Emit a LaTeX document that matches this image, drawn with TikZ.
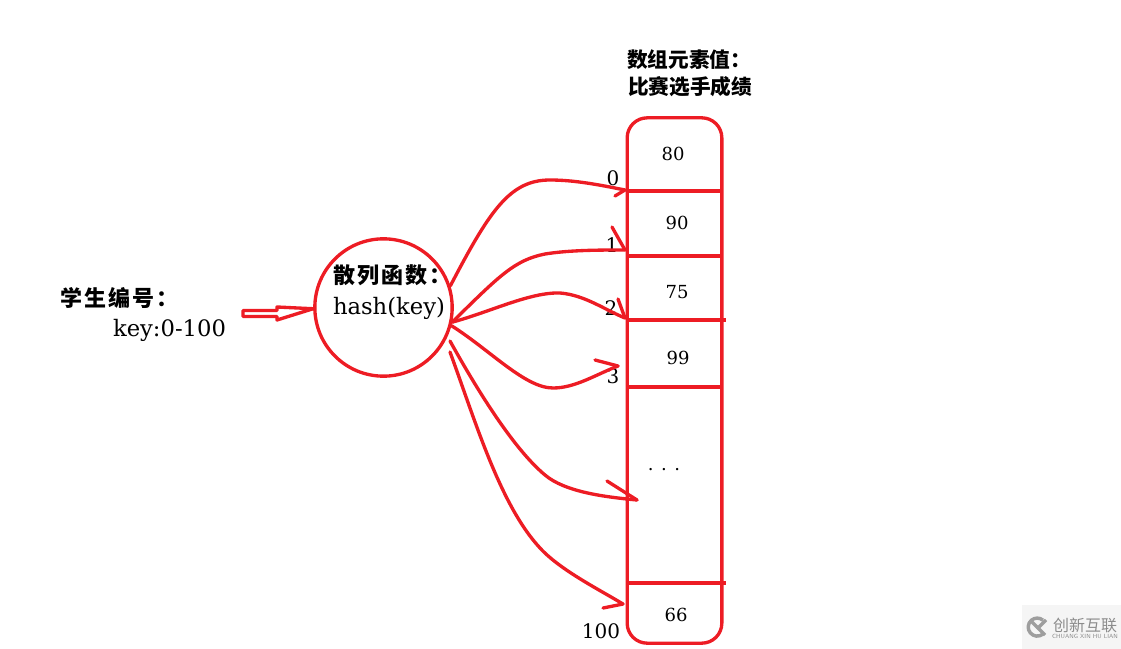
\documentclass[tikz,border=0pt]{standalone}
\usepackage{fontspec}
\setmainfont{DejaVu Serif}
\newfontfamily\cjk{Noto Sans CJK SC}
\newfontfamily\cjkwide{Noto Sans CJK SC}[LetterSpace=9]
\definecolor{linered}{HTML}{ED1C24}
\tikzset{
  redline/.style={draw=linered,line width=2.5pt,line cap=round,line join=round},
  sepline/.style={draw=linered,line width=2.7pt},
  word/.style={inner sep=0pt,font=\fontsize{13.5}{15}\selectfont},
  bigword/.style={inner sep=0pt,font=\fontsize{17}{20}\selectfont},
  idxword/.style={inner sep=0pt,font=\fontsize{15}{18}\selectfont},
  cjkword/.style={inner sep=0pt,anchor=west,font=\cjk\bfseries\fontsize{15.5}{18}\selectfont},
  cjkwideword/.style={inner sep=0pt,anchor=west,font=\cjkwide\bfseries\fontsize{16.5}{18}\selectfont},
  mark gray/.style={text=black!45,inner sep=0pt}
}
\begin{document}
\begin{tikzpicture}[x=.75pt,y=-.75pt]
\useasboundingbox (0,0) rectangle (1121,649);
\fill[black!4] (1022,605) rectangle (1121,649);
\node[redline,circle,minimum size=103pt,inner sep=0pt] (hash) at (383.5,307.5) {};
\node[redline,rectangle,rounded corners=15pt,minimum width=71pt,minimum height=394pt,inner sep=0pt] (table) at (674.5,380.5) {};
\coordinate (sepa) at (627,191);
\coordinate (sepb) at (627,256);
\coordinate (sepc) at (627,320);
\coordinate (sepd) at (627,387);
\coordinate (sepe) at (627,583);
\draw[sepline] (sepa)--(721,191);
\draw[sepline] (sepb)--(721,256);
\draw[sepline] (sepc)--(726,320);
\draw[sepline] (sepd)--(721,387);
\draw[sepline] (sepe)--(726,583);
\node[cjkword] (title1) at (627,60) {数组元素值：};
\node[cjkword] (title2) at (628,87) {比赛选手成绩};
\node[cjkwideword] (student) at (60,298) {学生编号：};
\node[bigword] (range) at (169.5,330) {key:0-100};
\node[cjkwideword] (hashname) at (333,275) {散列函数：};
\node[bigword] (hashtext) at (389,308) {hash(key)};
\node[word] (cella) at (673,154) {80};
\node[word] (cellb) at (677,223) {90};
\node[word] (cellc) at (677,292) {75};
\node[word] (celld) at (678,358) {99};
\node[word] (celle) at (664,470) {. . .};
\node[word] (cellf) at (676,615) {66};
\node[idxword] (idxa) at (613,178) {0};
\node[idxword] (idxb) at (612,245) {1};
\node[idxword] (idxc) at (611,308) {2};
\node[idxword] (idxd) at (613,376) {3};
\node[idxword] (idxe) at (601,631) {100};
\coordinate (starte) at (450,341);
\coordinate (startf) at (450,352);
\coordinate (tipa) at (625,190);
\coordinate (tipb) at (625,250);
\coordinate (tipc) at (625,318);
\coordinate (tipd) at (618,366);
\coordinate (tipe) at (637,500);
\coordinate (tipf) at (623,604);
\draw[redline] (hash.18) .. controls (490,210) and (510,180) .. (550,180) .. controls (575,180) and (600,185) .. (tipa);
\draw[redline] (tipa)--(615,196);
\draw[redline] (hash.-12) .. controls (500,275) and (515,260) .. (545,254) .. controls (570,250) and (600,250) .. (tipb);
\draw[redline] (tipb)--(612,227);
\draw[redline] (hash.-12) .. controls (490,312) and (530,292) .. (560,293) .. controls (585,295) and (605,310) .. (tipc);
\draw[redline] (tipc)--(618,299);
\draw[redline] (hash.-15) .. controls (490,350) and (525,388) .. (553,388) .. controls (575,388) and (595,375) .. (tipd);
\draw[redline] (tipd)--(595,360);
\draw[redline] (starte) .. controls (480,395) and (515,450) .. (545,475) .. controls (565,492) and (605,497) .. (tipe);
\draw[redline] (tipe)--(607,481);
\draw[redline] (startf) .. controls (475,420) and (500,505) .. (540,548) .. controls (560,570) and (600,590) .. (tipf);
\draw[redline] (tipf)--(603,608);
\coordinate (inarrow) at (243,313.5);
\draw[redline,fill=white] (inarrow) -- ++(0,-3) -- ++(34,0) -- ++(0,-3.5) -- (hash.181) -- (277,320) -- ++(0,-3.5) -- (243,316.5) -- cycle;
\draw[line width=2.6pt,draw=black!38] (1043,634) arc[start angle=50,end angle=310,radius=9];
\draw[line width=2.6pt,draw=black!38] (1030,620) -- (1045,635);
\draw[line width=2.6pt,draw=black!38] (1046,620) -- (1037,629);
\node[mark gray,font=\cjk\fontsize{12}{12}\selectfont] (markcn) at (1085,625) {创新互联};
\node[mark gray,font=\sffamily\fontsize{4.5}{5}\selectfont] (markpy) at (1085,636) {CHUANG XIN HU LIAN};
\end{tikzpicture}
\end{document}
